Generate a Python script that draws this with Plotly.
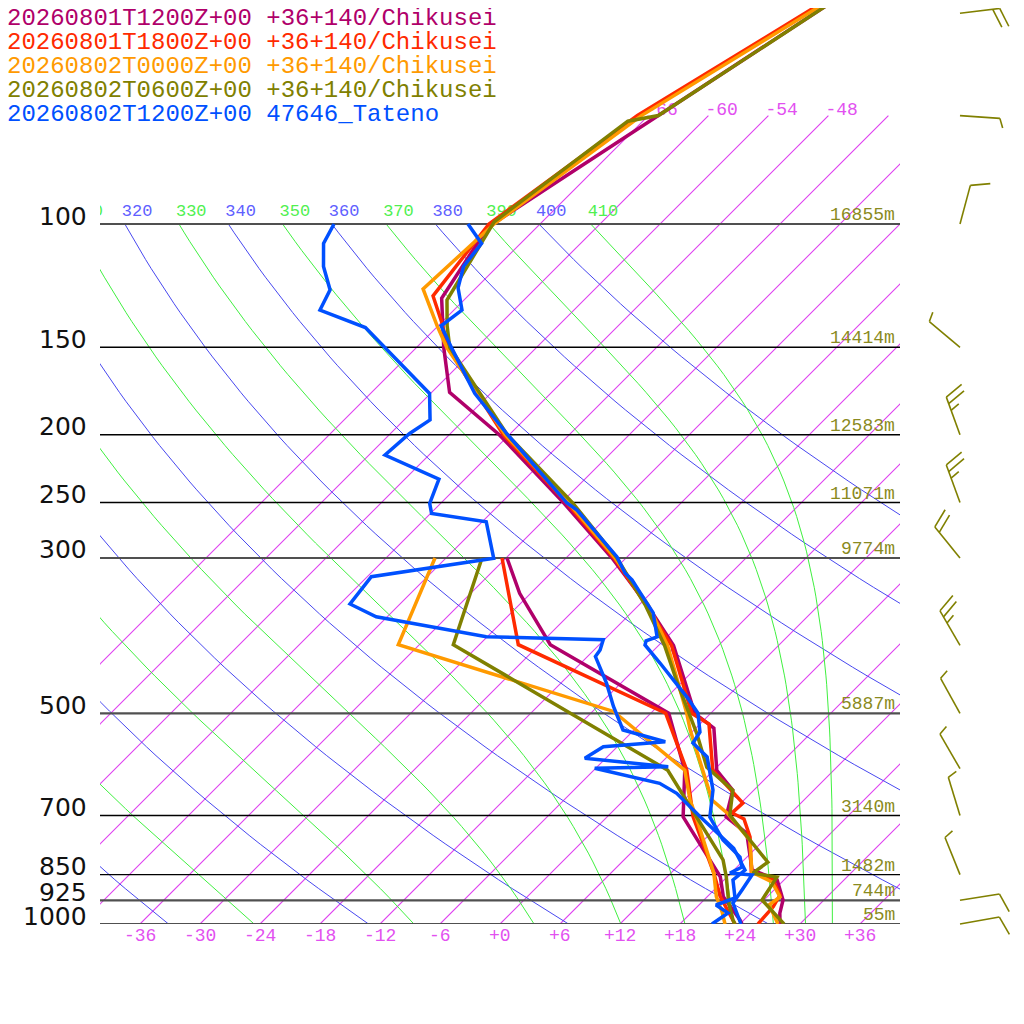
import numpy as np
import plotly.graph_objects as go

# ---------------- data ----------------
# Chikusei model runs: temperature (p, t) and dew point (p, td), hPa / degC
p_t_a = [30, 50, 70, 101, 127.7, 150, 174, 200, 250, 300, 350, 400, 450, 500, 525, 603, 644, 703, 742, 837, 865, 924, 965, 1000]
t_a = [-51.4, -59.6, -65.0, -70.9, -68.4, -63.3, -58.2, -49.0, -35.8, -25.4, -17.2, -10.5, -5.8, -1.6, 1.8, 6.3, 9.9, 11.9, 15.6, 19.8, 23.3, 25.9, 26.9, 28.0]
p_td_a = [300, 337, 399, 500, 603, 703, 856, 914, 987, 1000]
td_a = [-35.9, -31.1, -22.9, -4.2, 3.1, 7.6, 17.3, 19.6, 23.6, 24.2]

p_t_b = [30, 50, 70, 100, 126.7, 138.5, 150, 200, 250, 300, 350, 400, 450, 500, 518, 603, 672, 694, 708, 751, 842, 865, 909, 945, 1000]
t_b = [-50.7, -60.6, -67.1, -71.1, -69.5, -65.9, -62.9, -48.6, -35.5, -25.2, -17.3, -10.7, -6.1, -1.9, 0.9, 5.9, 12.2, 12.1, 13.9, 16.3, 19.9, 22.9, 25.1, 25.6, 25.8]
p_td_b = [300, 399, 500, 603, 703, 846, 914, 987, 1000]
td_b = [-36.4, -26.1, -4.5, 3.3, 8.6, 16.3, 19.3, 22.9, 23.5]

p_t_c = [30, 50, 70, 100, 123.8, 139.8, 150, 200, 250, 300, 350, 400, 450, 500, 528, 603, 665, 694, 759, 843, 871, 915, 939, 1000]
t_c = [-50.4, -60.2, -66.7, -70.6, -71.2, -66.1, -63.0, -48.4, -35.3, -25.1, -17.1, -11.1, -6.5, -2.4, -0.4, 4.9, 8.8, 11.6, 16.6, 20.0, 23.0, 25.3, 25.0, 27.8]
p_td_c = [300, 399, 497, 525, 603, 665, 703, 846, 914, 961, 1000]
td_c = [-43.1, -38.1, -9.9, -6.2, 3.1, 6.6, 8.9, 16.3, 18.9, 21.0, 22.5]

p_t_d = [30, 50, 70, 71.3, 99.3, 128.4, 139.8, 150, 200, 250, 300, 350, 400, 450, 500, 534, 597, 644, 699, 816, 846, 857, 924, 1000]
t_d = [-51.4, -59.6, -65.0, -67.5, -70.8, -67.7, -65.1, -62.7, -48.2, -34.9, -24.9, -17.4, -11.4, -6.6, -2.2, 0.6, 5.0, 9.9, 12.1, 20.6, 20.2, 23.0, 23.8, 28.4]
p_td_d = [300, 399, 603, 704, 810, 856, 934, 987, 1000]
td_d = [-38.4, -32.6, 1.4, 9.0, 15.9, 17.9, 20.8, 22.9, 23.5]

# Tateno radiosonde
p_t_obs = [100, 106.6, 115.0, 123.4, 132.7, 139.8, 150.8, 174.5, 178.4, 199.5, 215.2, 250.4, 256.2, 299.0,
           315.2, 322.5, 335.7, 359.3, 388.9, 394.1, 399.4, 423.8, 474.0, 499.6, 531.8, 551.4, 577.1, 608.6,
           643.6, 703.6, 758.6, 802.2, 829.1, 845.6, 851.1, 894.1, 933.3, 1000]
t_obs = [-73.2, -69.9, -69.4, -67.8, -65.2, -65.7, -62.3, -55.6, -54.4, -48.3, -44.0, -35.4, -33.7, -25.0,
         -22.6, -21.2, -19.2, -15.8, -13.0, -13.7, -13.4, -10.1, -4.0, -1.3, 0.8, 1.2, 4.0, 5.9,
         7.9, 10.3, 13.9, 17.3, 18.5, 17.9, 20.3, 20.8, 21.2, 24.1]
p_td_obs = [100, 106.6, 115, 124.2, 132.7, 139.0, 140.6, 174.6, 190.5, 199.3, 213.8, 231.4, 250.6, 259.1,
            266.3, 300.3, 319.0, 349.0, 364.0, 388.6, 392.6, 405.9, 414.9, 453.2, 489.0, 528.3, 549.0,
            558.0, 579.6, 596.1, 599.2, 629.6, 650.6, 702.9, 779.6, 837.3, 865.3, 918.0, 939.4, 964.4, 1000]
td_obs = [-86.6, -85.7, -83.4, -80.4, -79.4, -74.4, -73.1, -60.1, -57.4, -58.1, -58.4, -50.6, -49.1, -47.9,
          -41.6, -37.2, -47.6, -47.0, -43.1, -30.1, -18.1, -17.4, -17.2, -13.4, -10.4, -7.1, -1.7,
          -7.4, -8.1, 1.1, -6.1, 1.9, 4.6, 9.3, 15.8, 19.1, 18.9, 20.9, 19.7, 21.7, 21.2]

names = ["20260801T1200Z+00 +36+140/Chikusei",
         "20260801T1800Z+00 +36+140/Chikusei",
         "20260802T0000Z+00 +36+140/Chikusei",
         "20260802T0600Z+00 +36+140/Chikusei",
         "20260802T1200Z+00 47646_Tateno"]
colors = ["#b0006a", "#ff2a00", "#ff9a00", "#808000", "#0050ff"]

# wind barbs (0600Z run)
barb_p = [50, 70, 100, 150, 200, 250, 300, 400, 500, 600, 700, 850, 925, 1000]
barb_dir = [83, 94, 15, 310, 340, 340, 321, 330, 331, 330, 343, 338, 81, 80]
barb_kt = [20, 5, 10, 5, 25, 25, 20, 25, 5, 5, 5, 5, 10, 10]

# geopotential heights of the standard levels
levels = [100, 150, 200, 250, 300, 500, 700, 850, 925, 1000]
heights = ["16855m", "14414m", "12583m", "11071m", "9774m", "5887m", "3140m", "1482m", "744m", "55m"]
bold_levels = [100, 300, 500, 925, 1000]

isotherms = list(range(-66, 37, 6))
dry_thetas = list(range(240, 401, 20))
moist_thetas = list(range(250, 411, 20))
bottom_temps = list(range(-36, 37, 6))

# ---------------- skew-T geometry ----------------
# page is drawn with an 8 px body margin, so the figure sits at (8, 8)
KPX = 304.0                      # pixels per e-fold of pressure
SKEW = KPX / 10.0                # 10 px per degC, 45 degree isotherms
P_TOP = 1000 * np.exp(-916 / KPX)
P_BOT2 = 1000 * np.exp(56 / KPX)
PW, PH = 932.0, 972.0            # plot area size in px
P_ISO_LAB = 1000 * np.exp(-814 / KPX)   # label row above the isotherm ends
P_TH_LAB = 1000 * np.exp(-712 / KPX)    # label row above the 100 hPa line


def px(x):
    return (x - 100) / PW


def py(y):
    return (980 - y) / PH


def skx(t, p):
    return np.asarray(t, float) + SKEW * np.log(1000.0 / np.asarray(p, float))


def theta_e_sat(tk, p):
    tc = tk - 273.15
    es = 6.112 * np.exp(17.67 * tc / (tc + 243.5))
    r = np.where(es < 0.5 * p, 622.0 * es / np.maximum(p - es, 1e-6), 1e4)
    return tk * (1000.0 / p) ** (0.2854 * (1 - 0.00028 * r)) * np.exp((3.376 / tk - 0.00254) * r * (1 + 0.00081 * r))


def moist_t(the, p):
    lo = np.full_like(p, 150.0)
    hi = np.full_like(p, 330.0)
    with np.errstate(over="ignore", invalid="ignore"):
        for _ in range(50):
            mid = 0.5 * (lo + hi)
            big = theta_e_sat(mid, p) > the
            hi = np.where(big, mid, hi)
            lo = np.where(big, lo, mid)
    return 0.5 * (lo + hi) - 273.15


def joined(curves):
    xs, ys = [], []
    for x, y in curves:
        xs += list(x) + [None]
        ys += list(y) + [None]
    return xs, ys


fig = go.Figure()

# isotherms
pp = np.array([1000.0, 70.0])
xs, ys = joined([(skx([t, t], pp), pp) for t in isotherms])
fig.add_trace(go.Scatter(x=xs, y=ys, mode="lines", line=dict(color="rgb(222,64,240)", width=1.1)))
lab = [t for t in isotherms if skx(t, 70) <= 35]
fig.add_trace(go.Scatter(x=skx(lab, [70] * len(lab)) - 0.3, y=[P_ISO_LAB] * len(lab), mode="text",
                         text=[str(t) for t in lab], textposition="middle right",
                         textfont=dict(family="Liberation Mono", size=18, color="rgb(226,80,240)")))

# dry adiabats
pg = np.geomspace(1000, 100, 80)
xs, ys = joined([(skx(th * (pg / 1000) ** 0.286 - 273.15, pg), pg) for th in dry_thetas])
fig.add_trace(go.Scatter(x=xs, y=ys, mode="lines", line=dict(color="rgb(72,72,240)", width=1)))
dry_x = [skx(th * 0.1 ** 0.286 - 273.15, 100) - 0.3 for th in dry_thetas]
keep = [i for i, v in enumerate(dry_x) if v > -44]
fig.add_trace(go.Scatter(x=[dry_x[i] for i in keep], y=[P_TH_LAB] * len(keep), mode="text",
                         text=[str(dry_thetas[i]) for i in keep], textposition="middle right",
                         textfont=dict(family="Liberation Mono", size=17, color="rgb(96,96,255)")))

# moist (pseudo) adiabats labelled by theta-e
xs, ys = joined([(skx(moist_t(th, pg), pg), pg) for th in moist_thetas])
fig.add_trace(go.Scatter(x=xs, y=ys, mode="lines", line=dict(color="rgb(64,240,64)", width=1)))
top_x = [skx(moist_t(th, np.array([100.0]))[0], 100) - 0.3 for th in moist_thetas]
keep = [i for i, v in enumerate(top_x) if v > -44]
fig.add_trace(go.Scatter(x=[top_x[i] for i in keep], y=[P_TH_LAB] * len(keep), mode="text",
                         text=[str(moist_thetas[i]) for i in keep], textposition="middle right",
                         textfont=dict(family="Liberation Mono", size=17, color="rgb(80,240,80)")))

# standard pressure lines (mandatory ones a little heavier)
xs, ys = joined([([-40, 40], [p, p]) for p in levels if p not in bold_levels])
fig.add_trace(go.Scatter(x=xs, y=ys, mode="lines", line=dict(color="#000000", width=1.4)))
xs, ys = joined([([-40, 40], [p, p]) for p in bold_levels])
fig.add_trace(go.Scatter(x=xs, y=ys, mode="lines", line=dict(color="#505050", width=2.2)))

# soundings
profiles = [(p_t_a, t_a, p_td_a, td_a), (p_t_b, t_b, p_td_b, td_b), (p_t_c, t_c, p_td_c, td_c),
            (p_t_d, t_d, p_td_d, td_d), (p_t_obs, t_obs, p_td_obs, td_obs)]
for (pt, tt, pd, td), col in zip(profiles, colors):
    for p, t in ((pd, td), (pt, tt)):
        fig.add_trace(go.Scatter(x=skx(t, p), y=p, mode="lines", line=dict(color=col, width=3.5)))

# wind barbs, drawn in pixel units on a side axis
bx, by = [], []
rot = np.radians(70)
for p0, wd, kt in zip(barb_p, barb_dir, barb_kt):
    th = np.radians(wd)
    ux, uy = np.sin(th), np.cos(th)
    fx = ux * np.cos(rot) + uy * np.sin(rot)
    fy = -ux * np.sin(rot) + uy * np.cos(rot)
    segs = [((0, 0), (40 * ux, 40 * uy))]
    n_full, n_half = divmod(int(round(kt / 5)), 2)
    pos = 40
    for _ in range(n_full):
        segs.append(((pos * ux, pos * uy), (pos * ux + 20 * fx, pos * uy + 20 * fy)))
        pos -= 7
    if n_half:
        segs.append(((pos * ux, pos * uy), (pos * ux + 10 * fx, pos * uy + 10 * fy)))
    for (x0, y0), (x1, y1) in segs:
        bx += [60 + x0, 60 + x1, None]
        by += [p0 * np.exp(-y0 / KPX), p0 * np.exp(-y1 / KPX), None]
fig.add_trace(go.Scatter(x=bx, y=by, xaxis="x2", yaxis="y2", mode="lines",
                         line=dict(color="#808000", width=1.6)))

# ---------------- annotations ----------------
ann = []
for i, (nm, col) in enumerate(zip(names, colors)):
    ann.append(dict(x=px(5), y=py(18.5 + 24 * i), xref="paper", yref="paper",
                    text=nm, showarrow=False, xanchor="left", yanchor="middle",
                    font=dict(family="Liberation Mono", size=24, color=col)))
for p, h in zip(levels, heights):
    ann.append(dict(x=px(89), y=np.log10(p), xref="paper", yref="y", text=str(p),
                    showarrow=False, xanchor="right", yanchor="middle", yshift=8,
                    font=dict(family="DejaVu Sans", size=25, color="#111111")))
    ann.append(dict(x=px(897), y=np.log10(p), xref="paper", yref="y", text=h,
                    showarrow=False, xanchor="right", yanchor="bottom", yshift=-3,
                    font=dict(family="Liberation Mono", size=18, color="#8a8a20")))
for t in bottom_temps:
    ann.append(dict(x=t, y=py(936), xref="x", yref="paper", text=f"{t:+d}",
                    showarrow=False, xanchor="center", yanchor="middle",
                    font=dict(family="Liberation Mono", size=18, color="rgb(226,80,240)")))

fig.update_traces(hoverinfo="skip", showlegend=False, cliponaxis=True)
fig.update_layout(
    width=1024, height=1024,
    margin=dict(l=92, r=0, t=0, b=52),
    paper_bgcolor="white", plot_bgcolor="white",
    hovermode=False, showlegend=False,
    xaxis=dict(domain=[0, 800 / PW], range=[-40, 40], visible=False, anchor="y"),
    yaxis=dict(domain=[56 / PH, 1], type="log", range=[3, np.log10(P_TOP)], visible=False, anchor="x"),
    xaxis2=dict(domain=[800 / PW, 1], range=[0, 132], visible=False, anchor="y2"),
    yaxis2=dict(domain=[0, 1], type="log", range=[np.log10(P_BOT2), np.log10(P_TOP)], visible=False, anchor="x2"),
    annotations=ann,
)
fig.write_html("out.html")
